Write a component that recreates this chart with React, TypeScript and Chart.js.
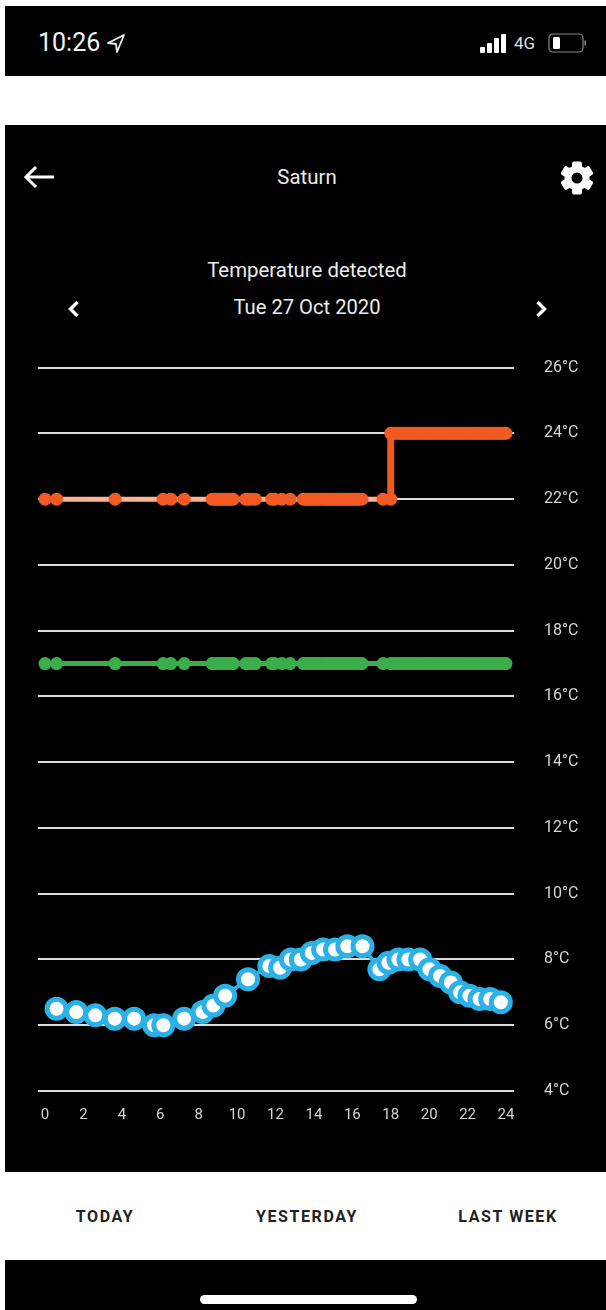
import React, { useEffect, useRef } from "react";
import { Chart, registerables } from "chart.js";

Chart.register(...registerables);

const xTickValues = [0, 2, 4, 6, 8, 10, 12, 14, 16, 18, 20, 22, 24];
const yTickLabelSuffix = "°C";

const earlyHours = [
  0, 0.6, 3.65, 6.15, 6.55, 7.25, 8.7, 8.8, 8.9, 9.0,
  9.1, 9.2, 9.3, 9.4, 9.5, 9.6, 9.7, 9.8, 10.45, 10.6,
  10.75, 10.95, 11.8, 11.95, 12.33, 12.76, 13.45, 13.55, 13.65, 13.75,
  13.85, 13.95, 14.05, 14.15, 14.25, 14.4, 14.55, 14.65, 14.75, 14.85,
  14.95, 15.05, 15.15, 15.25, 15.35, 15.45, 15.55, 15.65, 15.75, 15.85,
  15.95, 16.05, 16.15, 16.25, 16.35, 16.5, 17.6, 18.0,
];
const earlyHeatTemps = [
  22, 22, 22, 22, 22, 22, 22, 22, 22, 22,
  22, 22, 22, 22, 22, 22, 22, 22, 22, 22,
  22, 22, 22, 22, 22, 22, 22, 22, 22, 22,
  22, 22, 22, 22, 22, 22, 22, 22, 22, 22,
  22, 22, 22, 22, 22, 22, 22, 22, 22, 22,
  22, 22, 22, 22, 22, 22, 22, 22,
];
const earlyGreenTemps = [
  17, 17, 17, 17, 17, 17, 17, 17, 17, 17,
  17, 17, 17, 17, 17, 17, 17, 17, 17, 17,
  17, 17, 17, 17, 17, 17, 17, 17, 17, 17,
  17, 17, 17, 17, 17, 17, 17, 17, 17, 17,
  17, 17, 17, 17, 17, 17, 17, 17, 17, 17,
  17, 17, 17, 17, 17, 17, 17, 17,
];
const lateHours = [
  18.0, 18.12, 18.25, 18.38, 18.5, 18.62, 18.75, 18.88, 19.0, 19.12,
  19.25, 19.38, 19.5, 19.62, 19.75, 19.88, 20.0, 20.12, 20.25, 20.38,
  20.5, 20.62, 20.75, 20.88, 21.0, 21.12, 21.25, 21.38, 21.5, 21.62,
  21.75, 21.88, 22.0, 22.12, 22.25, 22.38, 22.5, 22.62, 22.75, 22.88,
  23.0, 23.12, 23.25, 23.38, 23.5, 23.62, 23.75, 23.88, 24.0,
];
const lateHeatTemps = [
  24, 24, 24, 24, 24, 24, 24, 24, 24, 24,
  24, 24, 24, 24, 24, 24, 24, 24, 24, 24,
  24, 24, 24, 24, 24, 24, 24, 24, 24, 24,
  24, 24, 24, 24, 24, 24, 24, 24, 24, 24,
  24, 24, 24, 24, 24, 24, 24, 24, 24,
];
const lateGreenTemps = [
  17, 17, 17, 17, 17, 17, 17, 17, 17, 17,
  17, 17, 17, 17, 17, 17, 17, 17, 17, 17,
  17, 17, 17, 17, 17, 17, 17, 17, 17, 17,
  17, 17, 17, 17, 17, 17, 17, 17, 17, 17,
  17, 17, 17, 17, 17, 17, 17, 17, 17,
];
const detectedHours = [
  0.6, 1.63, 2.62, 3.63, 4.64, 5.68, 6.16, 7.24, 8.21, 8.77,
  9.38, 10.57, 11.68, 12.24, 12.8, 13.32, 13.89, 14.48, 15.1, 15.74,
  16.53, 17.41, 17.88, 18.4, 18.92, 19.53, 20.02, 20.57, 21.13, 21.61,
  22.1, 22.62, 23.18, 23.73,
];
const detectedTemps = [
  6.5, 6.4, 6.3, 6.2, 6.2, 6.0, 6.0, 6.2, 6.4, 6.6,
  6.9, 7.4, 7.8, 7.75, 8.0, 8.0, 8.2, 8.3, 8.3, 8.4,
  8.4, 7.7, 7.9, 8.0, 8.0, 8.0, 7.7, 7.5, 7.3, 7.0,
  6.9, 6.8, 6.8, 6.7,
];

const zip = (xs: number[], ys: number[]) => xs.map((x, i) => ({ x, y: ys[i] }));

const ORANGE = "#f15a22";
const PALE = "#f9b498";
const GREEN = "#3bae4b";
const BLUE = "#2bb1e6";
const TEXT = "#ececec";
const UI_FONT = "Roboto, sans-serif";

const abs = (left: number, top: number, extra: React.CSSProperties = {}): React.CSSProperties => ({
  position: "absolute",
  left,
  top,
  ...extra,
});

function Label(props: { cx: number; cy: number; size: number; color?: string; weight?: number; spacing?: number; children: React.ReactNode }) {
  const { cx, cy, size, color = TEXT, weight = 400, spacing = 0, children } = props;
  return (
    <div
      style={{
        position: "absolute",
        left: cx - 150,
        width: 300,
        top: cy - 20,
        height: 40,
        lineHeight: "40px",
        textAlign: "center",
        fontFamily: UI_FONT,
        fontSize: size,
        fontWeight: weight,
        letterSpacing: spacing,
        color,
        whiteSpace: "nowrap",
      }}
    >
      {children}
    </div>
  );
}

function Gear() {
  const teeth = [0, 60, 120];
  return (
    <svg style={abs(560, 161)} width={34} height={34} viewBox="-17 -17 34 34">
      {teeth.map((a) => (
        <rect key={a} x={-5} y={-16.5} width={10} height={33} rx={2} fill="#fff" transform={`rotate(${a})`} />
      ))}
      <circle r={12.5} fill="#fff" />
      <circle r={5.5} fill="#000" />
    </svg>
  );
}

function Chevron({ x, dir }: { x: number; dir: 1 | -1 }) {
  return (
    <svg style={abs(x - 8, 299)} width={16} height={20} viewBox="-8 -10 16 20">
      <path d={`M${-3.5 * dir} -7 L${3.5 * dir} 0 L${-3.5 * dir} 7`} fill="none" stroke="#fff" strokeWidth={3.4} />
    </svg>
  );
}

function StatusIcons() {
  return (
    <>
      <svg style={abs(105, 31)} width={22} height={24} viewBox="0 0 22 24">
        <path d="M19 4 L3 12 L11 13 L12 21 Z" fill="none" stroke="#eee" strokeWidth={1.8} strokeLinejoin="round" />
      </svg>
      <svg style={abs(479, 32)} width={32} height={24} viewBox="0 0 32 24">
        <rect x={1} y={15} width={5} height={6} rx={1} fill="#fff" />
        <rect x={8} y={11} width={5} height={10} rx={1} fill="#fff" />
        <rect x={15} y={6} width={5} height={15} rx={1} fill="#fff" />
        <rect x={22} y={2} width={5} height={19} rx={1} fill="#fff" />
      </svg>
      <svg style={abs(547, 31)} width={40} height={24} viewBox="0 0 40 24">
        <rect x={2} y={3} width={34} height={18} rx={4} fill="none" stroke="#888" strokeWidth={1.2} />
        <rect x={6} y={6} width={7} height={12} rx={1.5} fill="#fff" />
        <rect x={37.5} y={9.5} width={1.5} height={5} fill="#888" />
      </svg>
    </>
  );
}

export default function App() {
  const canvasRef = useRef<HTMLCanvasElement | null>(null);

  useEffect(() => {
    const canvas = canvasRef.current;
    if (!canvas) return;
    const chart = new Chart(canvas, {
      type: "line",
      data: {
        datasets: [
          {
            label: "Setpoint",
            data: [...zip(earlyHours, earlyHeatTemps), ...zip(lateHours, lateHeatTemps)],
            borderColor: ORANGE,
            backgroundColor: ORANGE,
            borderWidth: 5,
            pointRadius: 6.5,
            pointBorderWidth: 0,
            pointBackgroundColor: ORANGE,
            tension: 0,
            order: 3,
            segment: {
              borderColor: (c: any) => (c.p0.parsed.y === c.p1.parsed.y ? PALE : ORANGE),
              borderWidth: (c: any) => (c.p0.parsed.y === c.p1.parsed.y ? 5 : 7),
            },
          },
          {
            label: "Away",
            data: [...zip(earlyHours, earlyGreenTemps), ...zip(lateHours.slice(1), lateGreenTemps.slice(1))],
            borderColor: GREEN,
            backgroundColor: GREEN,
            borderWidth: 5,
            pointRadius: 6.5,
            pointBorderWidth: 0,
            pointBackgroundColor: GREEN,
            tension: 0,
            order: 2,
          },
          {
            label: "Detected",
            data: zip(detectedHours, detectedTemps),
            borderColor: BLUE,
            backgroundColor: "#fff",
            borderWidth: 4,
            pointRadius: 9.5,
            pointBorderWidth: 5,
            pointBorderColor: BLUE,
            pointBackgroundColor: "#fff",
            tension: 0,
            order: 1,
          },
        ],
      },
      options: {
        animation: false,
        responsive: false,
        layout: { padding: { left: 38, top: 18, right: 0, bottom: 0 } },
        plugins: { legend: { display: false }, tooltip: { enabled: false } },
        scales: {
          x: {
            type: "linear",
            min: -0.365,
            max: 24.417,
            grid: { display: false },
            border: { display: false },
            afterBuildTicks: (s: any) => {
              s.ticks = xTickValues.map((value) => ({ value }));
            },
            afterFit: (s: any) => {
              s.height = 48;
            },
            ticks: {
              autoSkip: false,
              maxRotation: 0,
              padding: 7,
              color: "#d4d4d4",
              font: { family: UI_FONT, size: 15 },
              callback: (v: any) => String(v),
            },
          },
          y: {
            position: "right",
            min: 4,
            max: 26,
            grid: { color: "#dcdcdc", lineWidth: 2, drawTicks: false },
            border: { display: false },
            afterFit: (s: any) => {
              s.width = 92;
            },
            ticks: {
              stepSize: 2,
              padding: 30,
              color: "#d4d4d4",
              font: { family: UI_FONT, size: 16 },
              callback: (v: any) => `${v}${yTickLabelSuffix}`,
            },
          },
        },
      },
    } as any);
    return () => chart.destroy();
  }, []);

  return (
    <div style={{ position: "fixed", left: 0, top: 0, width: 606, height: 1310, background: "#fff", overflow: "hidden" }}>
      <div style={abs(5, 6, { width: 601, height: 70, background: "#000" })} />
      <div style={abs(5, 125, { width: 601, height: 1047, background: "#000" })} />
      <div style={abs(5, 1260, { width: 601, height: 50, background: "#000" })} />

      <div style={abs(38, 23, { fontFamily: UI_FONT, fontSize: 25, color: "#f2f2f2", lineHeight: "40px" })}>10:26</div>
      <StatusIcons />
      <div style={abs(514, 28, { fontFamily: UI_FONT, fontSize: 17, color: "#ddd", lineHeight: "30px" })}>4G</div>

      <svg style={abs(23, 164)} width={34} height={26} viewBox="0 0 34 26">
        <path d="M31 13 L3 13 M13 3 L3 13 L13 23" fill="none" stroke="#fff" strokeWidth={3} />
      </svg>
      <Label cx={307} cy={177} size={20.4}>Saturn</Label>
      <Gear />
      <Label cx={307} cy={270} size={20.4}>Temperature detected</Label>
      <Label cx={307} cy={307} size={20.2}>Tue 27 Oct 2020</Label>
      <Chevron x={74} dir={-1} />
      <Chevron x={541} dir={1} />

      <canvas ref={canvasRef} width={606} height={811} style={abs(0, 328, { display: "block", width: 606, height: 811 })} />

      <Label cx={105} cy={1217} size={16} weight={700} color="#222" spacing={1.6}>TODAY</Label>
      <Label cx={307} cy={1217} size={16} weight={700} color="#222" spacing={1.6}>YESTERDAY</Label>
      <Label cx={508} cy={1217} size={16} weight={700} color="#222" spacing={1.6}>LAST WEEK</Label>

      <div style={abs(200, 1295, { width: 217, height: 9, borderRadius: 5, background: "#fff" })} />
    </div>
  );
}
